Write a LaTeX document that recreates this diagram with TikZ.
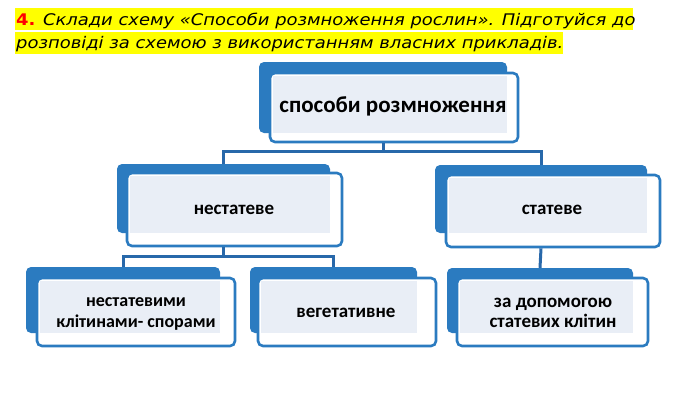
\documentclass[tikz,border=0pt]{standalone}
\usepackage{fontspec}
\setmainfont{Carlito}
\newfontfamily\titlefont[FakeStretch=1.12]{DejaVu Sans}
\usetikzlibrary{fit}
\definecolor{tabblue}{HTML}{2B7BC0}
\definecolor{lineblue}{HTML}{2868AA}
\definecolor{lightfill}{HTML}{E9EEF6}
\definecolor{hl}{HTML}{FFFF00}
\definecolor{numred}{HTML}{FF0000}
\newcommand\tabdeco[9]{%
  \node[backbox, fit={(#2,#3) (#4,#5)}] (#1) {};
  \fill[white, rounded corners=5pt] (#6,#7) rectangle (#8,#9);
  \fill[lightfill] (#6+3,#7+3) rectangle (#4,#5);
}
\begin{document}
\begin{tikzpicture}[x=1pt,y=-1pt,
  backbox/.style={fill=tabblue, rounded corners=5pt, inner sep=0pt},
  frontbox/.style={draw=tabblue, line width=2.6pt, rounded corners=5pt, inner sep=0pt},
  boxtext/.style={anchor=base, inner sep=0pt, font=\bfseries\fontsize{19}{21}\selectfont},
  conn/.style={draw=lineblue, line width=3pt},
  titletext/.style={anchor=base west, inner sep=0pt, font=\titlefont\fontsize{16}{18}\selectfont}
]
\useasboundingbox (0,0) rectangle (695,400);
% title
\fill[hl] (15,8) rectangle (633,30);
\fill[hl] (15,32) rectangle (563,54);
\node[titletext] (t1) at (16,25) {\textcolor{numred}{\bfseries 4.} \itshape Склади схему «Способи розмноження рослин». Підготуйся до};
\node[titletext] (t2) at (16,48) {\itshape розповіді за схемою з використанням власних прикладів.};
% boxes
\tabdeco{topb}{259}{62}{507}{133}{270}{73}{518}{142}
\node[frontbox, fit={(270,73) (518,142)}] (top) {};
\node[boxtext, font=\bfseries\fontsize{23}{26}\selectfont] (toptext) at (393,112.4) {способи розмноження};
\tabdeco{nestb}{117}{164}{330}{233}{127}{173}{342}{246}
\node[frontbox, fit={(127,173) (342,246)}] (nest) {};
\node[boxtext] (nesttext) at (234,214.4) {нестатеве};
\tabdeco{statb}{435}{165}{647}{233}{446}{175}{660}{247}
\node[frontbox, fit={(446,175) (660,247)}] (stat) {};
\node[boxtext] (stattext) at (552,214.4) {статеве};
\tabdeco{bab}{26}{267}{220}{333}{37}{278}{235}{346}
\node[frontbox, fit={(37,278) (235,346)}] (ba) {};
\node[boxtext, font=\bfseries\fontsize{18}{21}\selectfont] (batext1) at (136,306.2) {нестатевими};
\node[boxtext, font=\bfseries\fontsize{18}{21}\selectfont] (batext2) at (136,327.2) {клітинами- спорами};
\tabdeco{bbb}{250}{267}{417}{333}{258}{278}{436}{346}
\node[frontbox, fit={(258,278) (436,346)}] (bb) {};
\node[boxtext] (bbtext) at (346,317.4) {вегетативне};
\tabdeco{bcb}{447}{268}{633}{333}{457}{278}{648}{346}
\node[frontbox, fit={(457,278) (648,346)}] (bc) {};
\node[boxtext] (bctext1) at (553,307.4) {за допомогою};
\node[boxtext] (bctext2) at (553,327.4) {статевих клітин};
% connectors
\coordinate (bar1) at (0,151);
\coordinate (bar2) at (0,256);
\draw[conn] (topb.center |- top.south) -- (topb.center |- bar1);
\draw[conn] (nestb.north) -- (nestb.north |- bar1) -- (statb.north |- bar1) -- (statb.north);
\draw[conn] (nestb.center |- nest.south) -- (nestb.center |- bar2);
\draw[conn] (bab.north) -- (bab.north |- bar2) -- (bbb.north |- bar2) -- (bbb.north);
\draw[conn] (statb.center |- stat.south) -- (bcb.north);
\end{tikzpicture}
\end{document}
